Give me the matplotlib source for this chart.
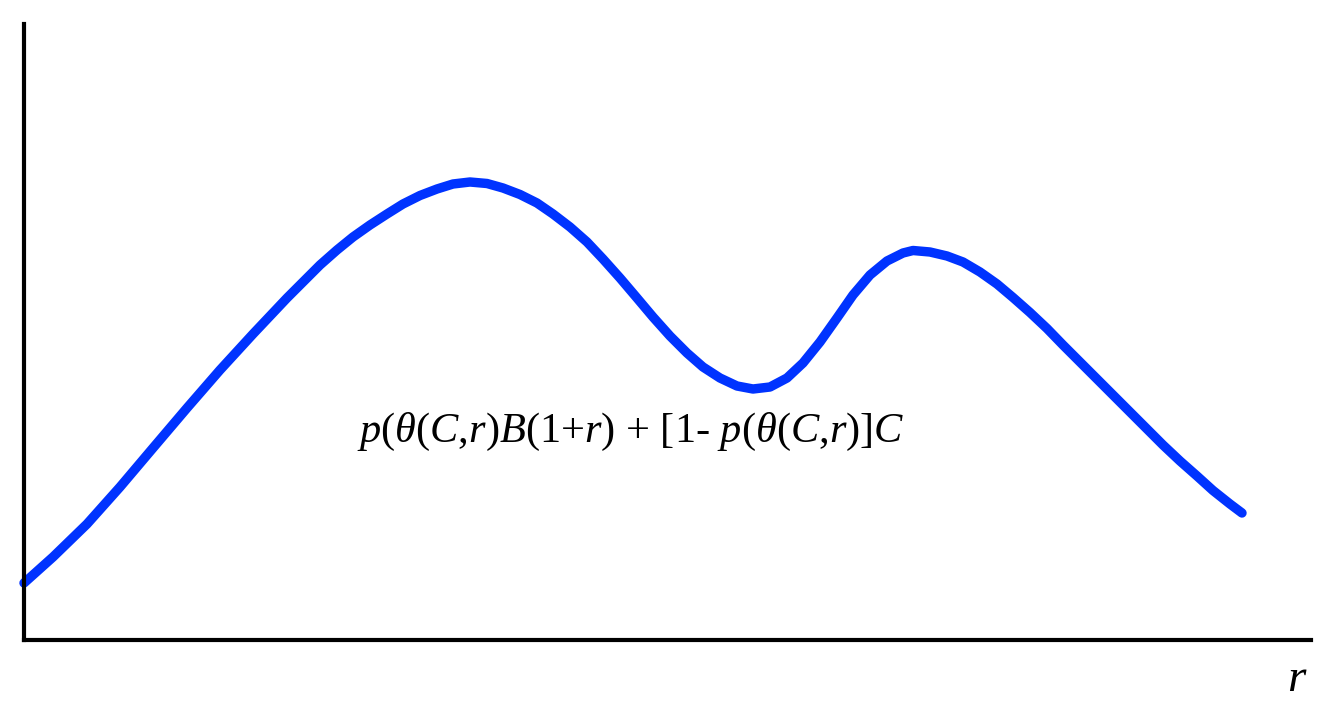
import matplotlib

matplotlib.use("Agg")
import matplotlib.pyplot as plt

X = [0, 29, 63, 96, 129, 163, 196, 229, 263, 296, 313, 329, 346, 363, 379,
     396, 413, 429, 446, 463, 479, 496, 513, 529, 546, 563, 579, 596, 613,
     629, 646, 663, 679, 696, 713, 729, 746, 763, 779, 796, 813, 829, 846,
     863, 879, 889, 906, 923, 939, 956, 973, 989, 1006, 1023, 1039, 1056,
     1073, 1089, 1106, 1123, 1139, 1156, 1173, 1189, 1206, 1218]
Y = [57, 83, 116, 153, 192, 232, 270, 306, 342, 375, 390, 403, 415, 426, 436,
     444.5, 451, 456, 458, 456.5, 452, 445.5, 437, 426, 413, 398, 381, 362, 342,
     323, 304, 287, 273, 262, 254, 251, 253, 262, 277, 298, 322, 345, 365,
     379, 387, 389.5, 388, 384, 378, 368, 356, 342.5, 327.5, 311.5, 295, 278,
     261, 245, 228, 211, 195, 179, 164, 149.5, 136, 127]

LABEL = r"$p(\theta(C{,}r)B($1+$r$) + [1- $p(\theta(C{,}r)]C$"
BLUE = "#0033ff"

plt.rcParams["mathtext.fontset"] = "custom"
plt.rcParams["mathtext.rm"] = "Liberation Serif"
plt.rcParams["mathtext.it"] = "Liberation Serif:italic"
plt.rcParams["font.family"] = "Liberation Serif"

fig = plt.figure(figsize=(13.25, 7.09), dpi=100)
ax = fig.add_axes([24 / 1325, 69 / 709, 1287 / 1325, 616 / 709])
ax.plot(X, Y, color=BLUE, lw=6.8, solid_capstyle="round", solid_joinstyle="round",
        clip_on=False)
ax.set_xlim(0, 1287)
ax.set_ylim(0, 616)
for s in ("top", "right"):
    ax.spines[s].set_visible(False)
for s in ("left", "bottom"):
    ax.spines[s].set_linewidth(3)
ax.set_xticks([])
ax.set_yticks([])

ax.text(607, 208, LABEL, ha="center", va="center", fontsize=30.5)
ax.text(1273, -40, "$r$", ha="center", va="center", fontsize=34, clip_on=False)

fig.savefig("out.png", dpi=100)
